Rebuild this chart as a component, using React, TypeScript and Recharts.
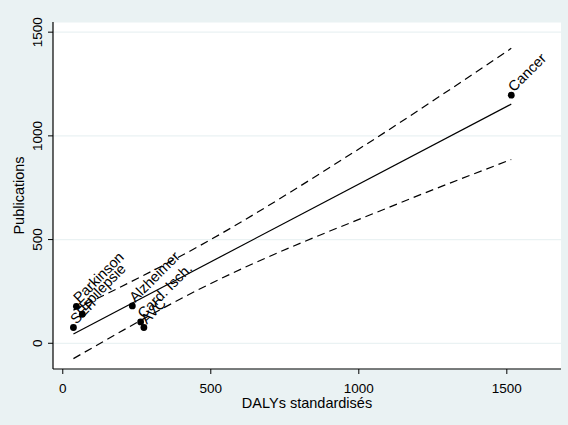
import { ComposedChart, Scatter, Line, XAxis, YAxis, CartesianGrid } from 'recharts';

const names = ['Cancer', 'Parkinson', 'Epilepsie', 'SEP', 'Alzheimer', 'Card. Isch.', 'AVC'];
const dalys = [1515, 46, 66, 36, 235, 263, 274];
const publications = [1196, 178, 140, 76, 180, 103, 76];

const fitX = [36, 1515];
const fitY = [45, 1153];
const upperX = [36, 466, 994, 1515];
const upperY = [160, 473, 931, 1422];
const lowerX = [36, 466, 1141, 1515];
const lowerY = [-74, 264, 678, 886];

const xTicks = [0, 500, 1000, 1500];
const yTicks = [0, 500, 1000, 1500];

const FONT = '"Liberation Sans", Arial, sans-serif';
const BG = '#eaf2f3';

const points = names.map((name, i) => ({ name, x: dalys[i], y: publications[i] }));
const toSeries = (xs: number[], ys: number[]) => xs.map((x, i) => ({ x, y: ys[i] }));
const fitData = toSeries(fitX, fitY);
const upperData = toSeries(upperX, upperY);
const lowerData = toSeries(lowerX, lowerY);

const Dot = (props: any) => {
  const { cx, cy, payload } = props;
  return (
    <g>
      <circle cx={cx} cy={cy} r={3.4} fill="#000" />
      <text
        x={cx + 4}
        y={cy}
        transform={`rotate(-45 ${cx} ${cy})`}
        fontSize={14.5}
        fontFamily={FONT}
        fill="#000"
      >
        {payload.name}
      </text>
    </g>
  );
};

const XTick = (props: any) => {
  const { x, y, payload } = props;
  return (
    <text x={x} y={y + 19} textAnchor="middle" fontSize={13.5} fontFamily={FONT} fill="#000">
      {payload.value}
    </text>
  );
};

const YTick = (props: any) => {
  const { x, y, payload } = props;
  const bx = x - 6;
  return (
    <text x={bx} y={y} transform={`rotate(-90 ${bx} ${y})`} textAnchor="middle" fontSize={13.5} fontFamily={FONT} fill="#000">
      {payload.value}
    </text>
  );
};

export default function App() {
  return (
    <div style={{ position: 'absolute', left: 0, top: 0, width: 568, height: 425, background: BG }}>
      <ComposedChart width={568} height={425} margin={{ top: 22, right: 7, bottom: 0, left: 0 }}>
        <CartesianGrid vertical={false} fill="#fff" stroke={BG} strokeWidth={1.2} />
        <XAxis
          type="number"
          dataKey="x"
          domain={[-33, 1683]}
          ticks={xTicks}
          allowDataOverflow
          height={56}
          tickSize={5}
          tickMargin={0}
          tick={<XTick />}
          axisLine={{ stroke: '#000', strokeWidth: 1.2 }}
          tickLine={{ stroke: '#000' }}
          label={{
            content: (p: any) => (
              <text
                x={p.viewBox.x + p.viewBox.width / 2}
                y={p.viewBox.y + 39}
                textAnchor="middle"
                fontSize={14.5}
                fontFamily={FONT}
                fill="#000"
              >
                DALYs standardisés
              </text>
            ),
          }}
        />
        <YAxis
          type="number"
          dataKey="y"
          domain={[-124, 1549]}
          ticks={yTicks}
          allowDataOverflow
          width={53}
          tickSize={5}
          tickMargin={0}
          tick={<YTick />}
          axisLine={{ stroke: '#000', strokeWidth: 1.2 }}
          tickLine={{ stroke: '#000' }}
          label={{
            content: (p: any) => {
              const lx = 24;
              const ly = p.viewBox.y + p.viewBox.height / 2;
              return (
                <text
                  x={lx}
                  y={ly}
                  transform={`rotate(-90 ${lx} ${ly})`}
                  textAnchor="middle"
                  fontSize={14.5}
                  fontFamily={FONT}
                  fill="#000"
                >
                  Publications
                </text>
              );
            },
          }}
        />
        <Line data={upperData} dataKey="y" type="monotone" stroke="#000" strokeWidth={1.2} strokeDasharray="8 5" dot={false} isAnimationActive={false} />
        <Line data={lowerData} dataKey="y" type="monotone" stroke="#000" strokeWidth={1.2} strokeDasharray="8 5" dot={false} isAnimationActive={false} />
        <Line data={fitData} dataKey="y" type="linear" stroke="#000" strokeWidth={1.2} dot={false} isAnimationActive={false} />
        <Scatter data={points} dataKey="y" shape={<Dot />} isAnimationActive={false} />
      </ComposedChart>
    </div>
  );
}
